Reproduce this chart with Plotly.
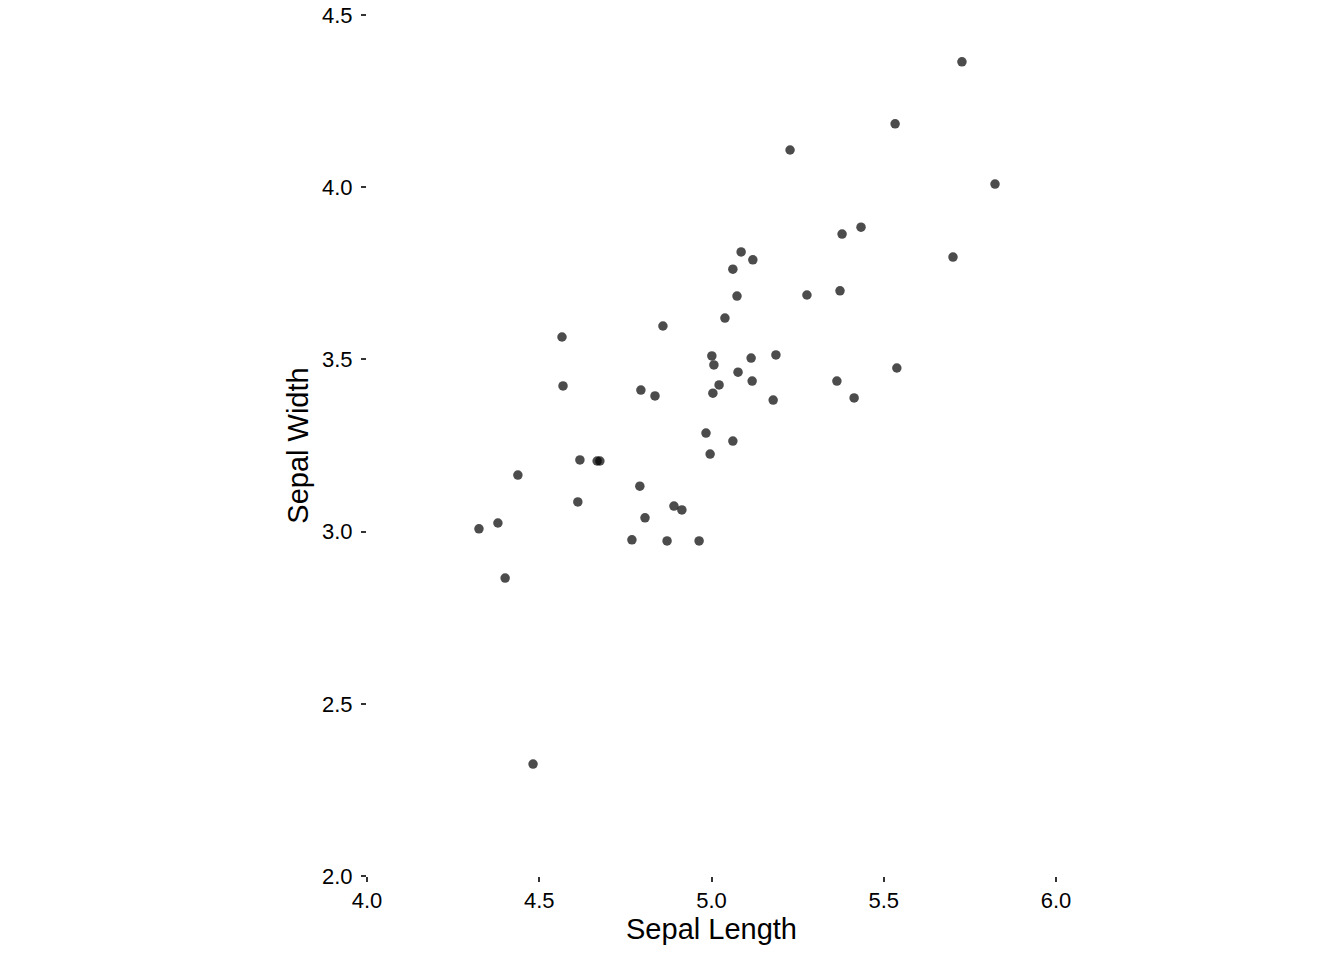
import plotly.graph_objects as go

sepal_length = [5.727, 5.533, 5.228, 5.823, 5.434, 5.379, 5.701, 5.086, 5.120, 5.062,
                5.074, 5.277, 5.373, 5.039, 4.859, 4.566, 5.001, 5.115, 5.187, 5.007,
                5.538, 5.077, 4.569, 5.022, 5.118, 5.364, 4.795, 4.836, 5.004, 5.179,
                5.414, 4.984, 5.062, 4.996, 4.618, 4.668, 4.676, 4.438, 4.792, 4.612,
                4.891, 4.914, 4.807, 4.325, 4.380, 4.769, 4.871, 4.964, 4.401, 4.482]
sepal_width = [4.364, 4.184, 4.108, 4.009, 3.884, 3.864, 3.797, 3.812, 3.789, 3.762,
               3.684, 3.687, 3.699, 3.620, 3.597, 3.565, 3.510, 3.504, 3.513, 3.484,
               3.475, 3.463, 3.423, 3.426, 3.437, 3.437, 3.411, 3.394, 3.402, 3.382,
               3.388, 3.286, 3.263, 3.225, 3.208, 3.205, 3.205, 3.164, 3.132, 3.086,
               3.074, 3.063, 3.040, 3.008, 3.025, 2.976, 2.973, 2.973, 2.865, 2.325]

x_ticks = [4.0, 4.5, 5.0, 5.5, 6.0]
y_ticks = [2.0, 2.5, 3.0, 3.5, 4.0, 4.5]

fig = go.Figure(go.Scatter(
    x=sepal_length, y=sepal_width, mode="markers",
    marker=dict(size=9.5, color="rgba(0,0,0,0.7)", line=dict(width=0)),
))

font = dict(family="Liberation Sans, Arial, sans-serif", color="black")
axis_common = dict(
    showgrid=False, zeroline=False, showline=False, automargin=False,
    ticks="outside", ticklen=5, tickwidth=2, tickcolor="#333333",
    tickfont=dict(size=22, **font), ticklabeloverflow="allow",
)
fig.update_layout(
    width=1344, height=960,
    paper_bgcolor="white", plot_bgcolor="white",
    margin=dict(l=367, r=288, t=15, b=84),
    showlegend=False,
    xaxis=dict(range=[4.0, 6.0], tickvals=x_ticks,
               ticktext=[f"{v:.1f}" for v in x_ticks],
               ticklabelstandoff=0,
               title=dict(text="Sepal Length", font=dict(size=29, **font), standoff=5),
               **axis_common),
    yaxis=dict(range=[2.0, 4.5], tickvals=y_ticks,
               ticktext=[f"{v:.1f}" for v in y_ticks],
               ticklabelstandoff=4,
               title=dict(text="Sepal Width", font=dict(size=29, **font), standoff=4),
               **axis_common),
)
fig.write_html("out.html", config={"displayModeBar": False},
               post_script="document.body.style.margin='0px';")
